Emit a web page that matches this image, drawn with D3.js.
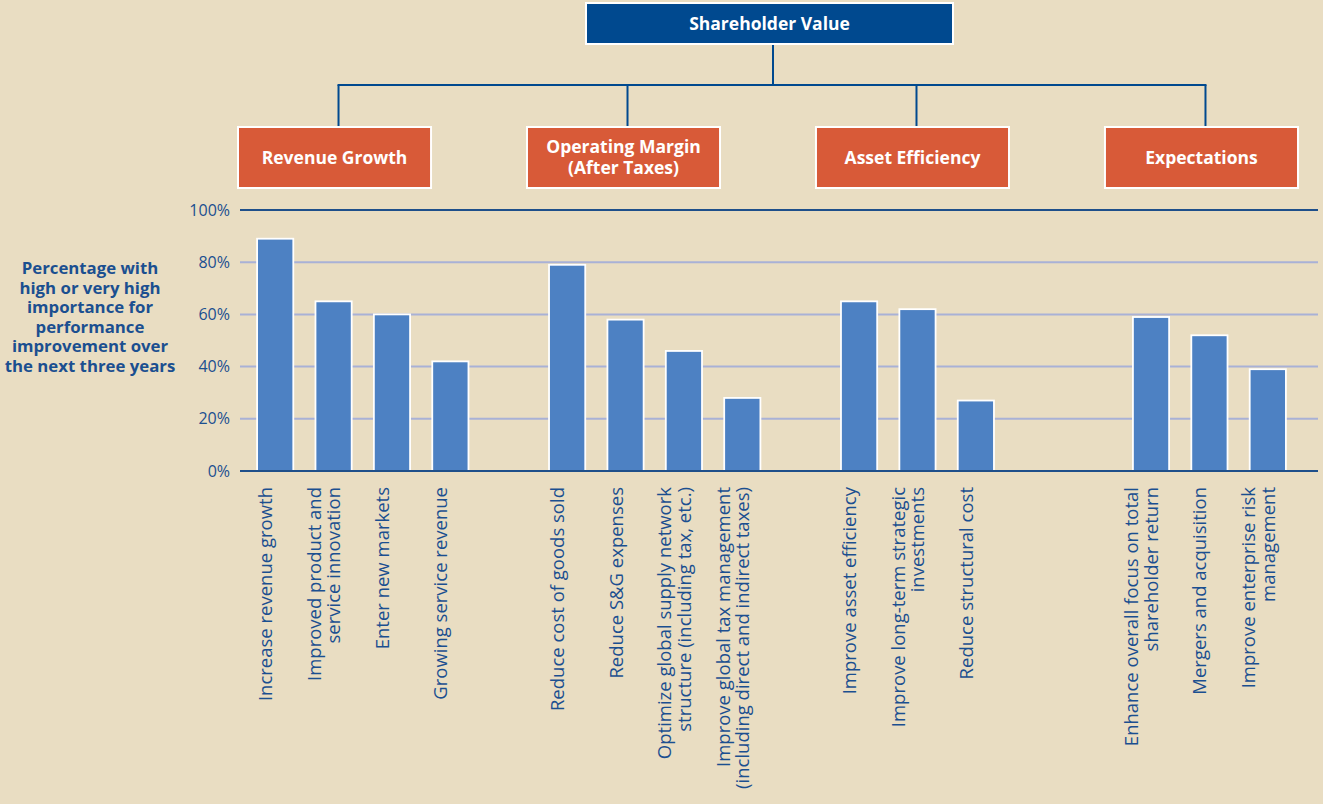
<!DOCTYPE html>
<html>
<head>
<meta charset="utf-8">
<script src="https://cdn.jsdelivr.net/npm/d3@7"></script>
<style>
	body { margin: 0; background: #e9ddc2; }
	svg { display: block; font-family: "Open Sans", sans-serif; }
</style>
</head>
<body>
<svg id="chart"></svg>
<script>
const width = 1323,
	height = 804;

const rootLabel = 'Shareholder Value';
const groups = ['Revenue Growth', 'Operating Margin\n(After Taxes)', 'Asset Efficiency', 'Expectations'];
const categories = [
	'Increase revenue growth',
	'Improved product and\nservice innovation',
	'Enter new markets',
	'Growing service revenue',
	'Reduce cost of goods sold',
	'Reduce S&G expenses',
	'Optimize global supply network\nstructure (including tax, etc.)',
	'Improve global tax management\n(including direct and indirect taxes)',
	'Improve asset efficiency',
	'Improve long-term strategic\ninvestments',
	'Reduce structural cost',
	'Enhance overall focus on total\nshareholder return',
	'Mergers and acquisition',
	'Improve enterprise risk\nmanagement'
];
const groupOf = [0, 0, 0, 0, 1, 1, 1, 1, 2, 2, 2, 3, 3, 3];
const values = [89, 65, 60, 42, 79, 58, 46, 28, 65, 62, 27, 59, 52, 39];
const gapsAfter = [1, 1, 2]; // empty slots between groups
const yTicks = [0, 20, 40, 60, 80, 100];
const yTitle = ['Percentage with', 'high or very high', 'importance for', 'performance', 'improvement over', 'the next three years'];

const navy = '#00498f',
	textBlue = '#1b4f90',
	orange = '#d85a38',
	barBlue = '#4d81c3',
	gridBlue = '#a9b1d6';

// slot list: categories plus spacer slots between groups
const slots = [];
categories.forEach((c, i) => {
	slots.push(c);
	if (i < categories.length - 1 && groupOf[i + 1] !== groupOf[i]) {
		for (let k = 0; k < gapsAfter[groupOf[i]]; k++) slots.push('gap' + groupOf[i] + k);
	}
});

const x = d3.scaleBand()
	.domain(slots)
	.range([246, 1297])
	.paddingInner(0.38)
	.paddingOuter(0.19);

const y = d3.scaleLinear()
	.domain([0, 100])
	.range([471, 210]);

const gx = d3.scaleBand()
	.domain(groups)
	.range([238, 1298])
	.paddingInner(0.332);

const svg = d3.select('#chart')
	.attr('width', width)
	.attr('height', height);

// gridlines
svg.append('g')
	.selectAll('line')
	.data(yTicks)
	.join('line')
	.attr('x1', 240)
	.attr('x2', 1318)
	.attr('y1', d => y(d))
	.attr('y2', d => y(d))
	.attr('stroke', d => (d === 0 || d === 100) ? '#1e4f8a' : gridBlue)
	.attr('stroke-width', 2);

// y axis labels
svg.append('g')
	.selectAll('text')
	.data(yTicks)
	.join('text')
	.attr('x', 230)
	.attr('y', d => y(d))
	.attr('dy', '0.35em')
	.attr('text-anchor', 'end')
	.attr('fill', textBlue)
	.style('font-size', '16px')
	.text(d => d + '%');

// y title
svg.append('text')
	.attr('fill', textBlue)
	.attr('text-anchor', 'middle')
	.style('font-size', '16.8px')
	.style('font-weight', 'bold')
	.selectAll('tspan')
	.data(yTitle)
	.join('tspan')
	.attr('x', 90)
	.attr('y', (d, i) => 274 + i * 19.5)
	.text(d => d);

// bars
svg.append('g')
	.selectAll('rect')
	.data(values)
	.join('rect')
	.attr('x', (d, i) => x(categories[i]))
	.attr('width', x.bandwidth())
	.attr('y', d => y(d))
	.attr('height', d => y(0) - y(d))
	.attr('fill', barBlue)
	.attr('stroke', '#fff')
	.attr('stroke-width', 1.8);

// redraw baseline over bar bottoms
svg.append('line')
	.attr('x1', 240).attr('x2', 1318)
	.attr('y1', y(0)).attr('y2', y(0))
	.attr('stroke', '#1e4f8a')
	.attr('stroke-width', 2);

// category labels, rotated; text block sits a little left of the bar
const lineH = 19.5;
const lab = svg.append('g')
	.selectAll('text')
	.data(categories)
	.join('text')
	.attr('transform', d => {
		const lines = d.split('\n').length;
		const cx = x(d) + x.bandwidth() / 2 - 3 - (lines - 1) * lineH / 2;
		return `translate(${cx},487) rotate(-90)`;
	})
	.attr('text-anchor', 'end')
	.attr('fill', textBlue)
	.style('font-size', '18.5px');

lab.selectAll('tspan')
	.data(d => d.split('\n'))
	.join('tspan')
	.attr('x', 0)
	.attr('y', (d, i) => i * lineH)
	.text(d => d);

// hierarchy connectors
const rootBox = { x: 586, y: 3, w: 367, h: 41 };
const connY = 85;
const gcx = g => gx(g) + gx.bandwidth() / 2 + 4;

const conn = svg.append('g')
	.attr('stroke', navy)
	.attr('stroke-width', 2)
	.attr('fill', 'none');

conn.append('line')
	.attr('x1', 773).attr('x2', 773)
	.attr('y1', rootBox.y + rootBox.h).attr('y2', connY);

conn.append('line')
	.attr('x1', gcx(groups[0]) - 1).attr('x2', gcx(groups[groups.length - 1]) + 1)
	.attr('y1', connY).attr('y2', connY);

conn.selectAll('line.drop')
	.data(groups)
	.join('line')
	.attr('class', 'drop')
	.attr('x1', gcx).attr('x2', gcx)
	.attr('y1', connY).attr('y2', 127);

// root box
svg.append('rect')
	.attr('x', rootBox.x).attr('y', rootBox.y)
	.attr('width', rootBox.w).attr('height', rootBox.h)
	.attr('fill', navy)
	.attr('stroke', '#fff')
	.attr('stroke-width', 2);

svg.append('text')
	.attr('x', rootBox.x + rootBox.w / 2)
	.attr('y', rootBox.y + rootBox.h / 2)
	.attr('dy', '0.35em')
	.attr('text-anchor', 'middle')
	.attr('fill', '#fff')
	.style('font-size', '17.5px')
	.style('font-weight', 'bold')
	.text(rootLabel);

// group boxes
const gBox = svg.append('g')
	.selectAll('g')
	.data(groups)
	.join('g');

gBox.append('rect')
	.attr('x', d => gx(d))
	.attr('y', 127)
	.attr('width', gx.bandwidth())
	.attr('height', 61)
	.attr('fill', orange)
	.attr('stroke', '#fff')
	.attr('stroke-width', 2);

gBox.append('text')
	.attr('text-anchor', 'middle')
	.attr('fill', '#fff')
	.style('font-size', '17.5px')
	.style('font-weight', 'bold')
	.selectAll('tspan')
	.data(d => d.split('\n').map((t, i, a) => ({ t, i, n: a.length, g: d })))
	.join('tspan')
	.attr('x', d => gx(d.g) + gx.bandwidth() / 2)
	.attr('y', d => 157.5 + (d.i - (d.n - 1) / 2) * 20.5)
	.attr('dy', '0.35em')
	.text(d => d.t);
</script>
</body>
</html>
